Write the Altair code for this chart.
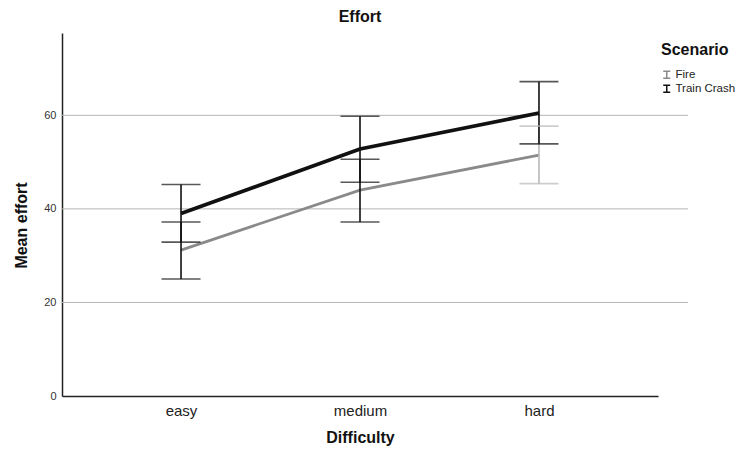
import altair as alt
import pandas as pd

difficulty = ["easy", "medium", "hard"]
scenarios = ["Fire", "Train Crash"]
fire_mean = [31.2, 44.0, 51.5]
fire_low = [25.0, 37.2, 45.4]
fire_high = [37.2, 50.6, 57.7]
train_mean = [39.0, 52.8, 60.5]
train_low = [32.9, 45.7, 53.9]
train_high = [45.2, 59.8, 67.2]
y_ticks = [0, 20, 40, 60]
grid_values = [20, 40, 60]

rows = []
for i, d in enumerate(difficulty):
    rows.append(dict(Difficulty=d, Scenario="Fire", mean=fire_mean[i], low=fire_low[i], high=fire_high[i]))
    rows.append(dict(Difficulty=d, Scenario="Train Crash", mean=train_mean[i], low=train_low[i], high=train_high[i]))
df = pd.DataFrame(rows)
grid_df = pd.DataFrame({"v": grid_values})

FONT = "Liberation Sans"
yscale = alt.Scale(domain=[0, 77.6], nice=False, zero=True)
xscale = alt.Scale(type="point", padding=0.665)

yaxis = alt.Axis(values=y_ticks, title="Mean effort", grid=False, tickSize=0,
                 labelFontSize=11, labelColor="#333", labelPadding=6,
                 domainColor="#222", domainWidth=1.5,
                 titleFontSize=16, titleFontWeight="bold", titlePadding=14, titleY=192,
                 titleColor="#111", labelFont=FONT, titleFont=FONT)
xaxis = alt.Axis(title="Difficulty", labelAngle=0, labelFontSize=15, labelColor="#222",
                 labelPadding=7, tickSize=0, domainColor="#222", domainWidth=1.5,
                 titleFontSize=16, titleFontWeight="bold", titlePadding=11,
                 titleColor="#111", labelFont=FONT, titleFont=FONT)

xenc = alt.X("Difficulty:N", sort=difficulty, scale=xscale, axis=xaxis)

grid = alt.Chart(grid_df).mark_rule(color="#b5b5b5", strokeWidth=1).encode(
    y=alt.Y("v:Q", scale=yscale, axis=yaxis),
    x=alt.value(0), x2=alt.value(626),
)

base = alt.Chart(df)

color_enc = alt.Color("Scenario:N", scale=alt.Scale(domain=scenarios, range=["#8a8a8a", "#111111"]),
                      legend=alt.Legend(title="Scenario", orient="none", legendX=599, legendY=9,
                                        symbolType="M-1,-1H1M0,-1V1M-1,1H1", symbolSize=49,
                                        symbolStrokeWidth=1.5, titleFontSize=16, titleFont=FONT,
                                        titleFontWeight="bold", titleColor="#111",
                                        labelFontSize=11.5, labelFont=FONT, labelColor="#222",
                                        labelOffset=3, titlePadding=11, rowPadding=0, padding=0))

line_fire = base.transform_filter(alt.datum.Scenario == "Fire").mark_line(strokeWidth=2.8).encode(
    x=xenc,
    y=alt.Y("mean:Q", scale=yscale, axis=yaxis),
    color=color_enc,
)
line_train = base.transform_filter(alt.datum.Scenario == "Train Crash").mark_line(strokeWidth=3.8).encode(
    x=xenc,
    y=alt.Y("mean:Q", scale=yscale, axis=yaxis),
    color=color_enc,
)

bar_color = alt.condition((alt.datum.Scenario == "Fire") & (alt.datum.Difficulty == "hard"),
                          alt.value("#b8b8b8"), alt.value("#111111"))

rules = base.mark_rule(strokeWidth=1.6).encode(
    x=xenc,
    y=alt.Y("low:Q", scale=yscale, axis=yaxis),
    y2="high:Q",
    color=bar_color,
)
caps_low = base.mark_tick(orient="horizontal", size=39, thickness=1.6).encode(
    x=xenc,
    y=alt.Y("low:Q", scale=yscale, axis=yaxis),
    color=bar_color,
)
caps_high = base.mark_tick(orient="horizontal", size=39, thickness=1.6).encode(
    x=xenc,
    y=alt.Y("high:Q", scale=yscale, axis=yaxis),
    color=bar_color,
)

chart = alt.layer(grid, line_fire, line_train, rules, caps_low, caps_high).properties(
    width=596, height=363,
    title=alt.TitleParams("Effort", fontSize=16, fontWeight="bold", font=FONT, color="#111",
                          anchor="middle", offset=8),
    padding={"left": 54, "top": 25, "right": 79, "bottom": 51},
    autosize=alt.AutoSizeParams(type="none"),
    background="white",
).configure_view(strokeWidth=0, stroke="transparent")

chart.save("out.html", embed_options={"renderer": "svg", "actions": False})
